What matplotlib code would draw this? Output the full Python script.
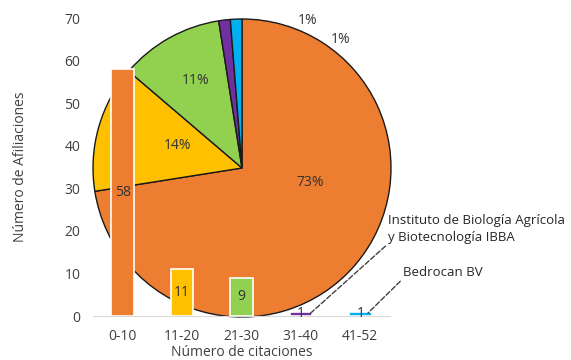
import matplotlib
matplotlib.use("Agg")
import matplotlib.pyplot as plt
import numpy as np

plt.rcParams['font.family'] = ['Open Sans', 'DejaVu Sans']

categories = ["0-10", "11-20", "21-30", "31-40", "41-52"]
values = [58, 11, 9, 1, 1]
pct_labels = ["73%", "14%", "11%", "1%", "1%"]
colors = ["#ED7D31", "#FFC000", "#92D050", "#7030A0", "#00B0F0"]
yticks = [0, 10, 20, 30, 40, 50, 60, 70]
ann_ibba = "Instituto de Biología Agrícola\ny Biotecnología IBBA"
ann_bed = "Bedrocan BV"

W, H = 571, 360
fig = plt.figure(figsize=(W / 100, H / 100), dpi=100)

# Pie axes (behind)
cx, cy, r = 242, 168, 149
pax = fig.add_axes([(cx - r) / W, (H - cy - r) / H, 2 * r / W, 2 * r / H])
wedges, texts = pax.pie(values, colors=colors, startangle=90, counterclock=False,
                        wedgeprops=dict(edgecolor="#1a1a1a", linewidth=1.0),
                        radius=1.0)
pax.set_xlim(-1, 1)
pax.set_ylim(-1, 1)
pax.axis("off")
# percentage label positions (pie-axes units)
label_pos = [(0.456, -0.094), (-0.43, 0.154), (-0.309, 0.59), (0.44, 0.99), (0.66, 0.86)]
for (lx, ly), lab in zip(label_pos, pct_labels):
    pax.text(lx, ly, lab, ha="center", va="center", fontsize=10, color="#333333")

# Bar axes (front)
ax = fig.add_axes([93 / W, 44 / H, 297 / W, 298 / H])
ax.set_facecolor("none")
x = np.arange(len(categories))
bars = ax.bar(x, values, width=0.38, color=colors, edgecolor="white", linewidth=1.2, zorder=3)
for xi, v in zip(x, values):
    ax.text(xi, v / 2, str(v), ha="center", va="center", fontsize=10, color="#333333", zorder=4)
ax.set_xlim(-0.5, len(categories) - 0.5)
ax.set_ylim(0, 70)
ax.set_yticks(yticks)
ax.set_xticks(x)
ax.set_xticklabels(categories)
ax.tick_params(axis="both", length=0, labelsize=10, labelcolor="#404040")
ax.tick_params(axis="y", pad=9)
ax.tick_params(axis="x", pad=9)
for s in ["top", "right", "left"]:
    ax.spines[s].set_visible(False)
ax.spines["bottom"].set_color("#d9d9d9")
ax.spines["bottom"].set_zorder(2)
ax.set_xlabel("Número de citaciones", fontsize=10, color="#404040", labelpad=1)
ax.set_ylabel("Número de Afiliaciones", fontsize=10, color="#404040", labelpad=26)

ax.annotate(ann_ibba, xy=(3.15, 0.5), xytext=(4.47, 17.0), textcoords="data",
            ha="left", va="bottom", fontsize=9.5, color="#262626", annotation_clip=False,
            linespacing=1.35,
            arrowprops=dict(arrowstyle="-", linestyle="--", color="#404040", lw=1.0,
                            relpos=(0, 0), shrinkA=0, shrinkB=0))
ax.annotate(ann_bed, xy=(4.13, 0.7), xytext=(4.72, 8.8), textcoords="data",
            ha="left", va="bottom", fontsize=9.5, color="#262626", annotation_clip=False,
            arrowprops=dict(arrowstyle="-", linestyle="--", color="#404040", lw=1.0,
                            relpos=(0, 0), shrinkA=0, shrinkB=0))

fig.savefig("out.png", dpi=100)
